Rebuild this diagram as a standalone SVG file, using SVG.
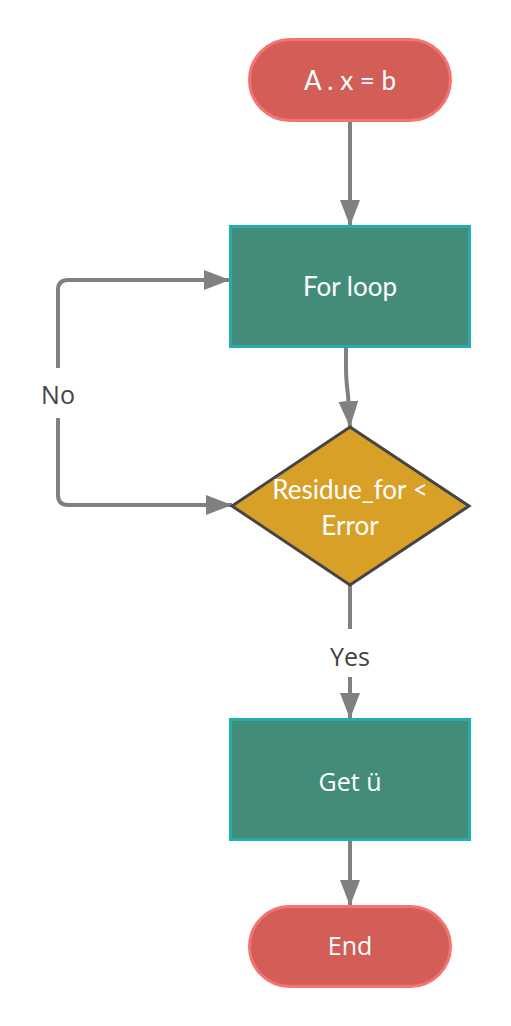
<svg xmlns="http://www.w3.org/2000/svg" width="511" height="1026" viewBox="0 0 511 1026">
<style>
.term{fill:#D35E58;stroke:#F47472;stroke-width:3}
.proc{fill:#448C7A;stroke:#22AFAC;stroke-width:3}
.dec{fill:#D8A027;stroke:#444444;stroke-width:3}
.conn{fill:none;stroke:#808080;stroke-width:4}
.nt{font-family:Lato,"Open Sans",sans-serif;font-size:26px;fill:#FFFFFF;text-anchor:middle;dominant-baseline:central}
.ot{font-family:"Open Sans",sans-serif;font-size:25px;fill:#FFFFFF;text-anchor:middle;dominant-baseline:central}
.lbl{font-family:"Open Sans",sans-serif;font-size:25px;fill:#444444;text-anchor:middle;dominant-baseline:central}
</style>
<defs>
<marker id="arr" viewBox="0 0 26 20" refX="26" refY="10" markerWidth="26" markerHeight="20" markerUnits="userSpaceOnUse" orient="auto-start-reverse">
<path d="M0,0 L26,10 L0,20 Z" fill="#808080"/>
</marker>
</defs>
<g id="connectors">
<path class="conn" d="M350,121 L350,226" marker-end="url(#arr)"/>
<path class="conn" d="M346,347 L346,368 Q346,380 348,395 L350,427" marker-end="url(#arr)"/>
<path class="conn" d="M232,505 L68,505 Q58,505 58,495 L58,418" marker-start="url(#arr)"/>
<path class="conn" d="M58,368 L58,290 Q58,280 68,280 L230,280" marker-end="url(#arr)"/>
<text class="lbl" x="58" y="394">No</text>
<path class="conn" d="M350,585 L350,629"/>
<path class="conn" d="M350,677 L350,719" marker-end="url(#arr)"/>
<text class="lbl" x="350" y="656">Yes</text>
<path class="conn" d="M350,840 L350,906" marker-end="url(#arr)"/>
</g>
<g id="start">
<rect class="term" x="249.5" y="39.5" width="201" height="81" rx="40.5"/>
<text class="nt" x="350" y="80">A . x = b</text>
</g>
<g id="forloop">
<rect class="proc" x="230.5" y="226.5" width="239" height="120"/>
<text class="nt" x="350" y="286">For loop</text>
</g>
<g id="decision">
<polygon class="dec" points="350,427 469,506 350,585 232,506"/>
<text class="nt" x="350" y="489">Residue_for &lt;</text>
<text class="nt" x="350" y="525">Error</text>
</g>
<g id="getu">
<rect class="proc" x="230.5" y="719.5" width="239" height="120"/>
<text class="ot" x="350" y="781">Get ü</text>
</g>
<g id="end">
<rect class="term" x="249.5" y="906.5" width="201" height="80" rx="40"/>
<text class="ot" x="350" y="945">End</text>
</g>
</svg>
